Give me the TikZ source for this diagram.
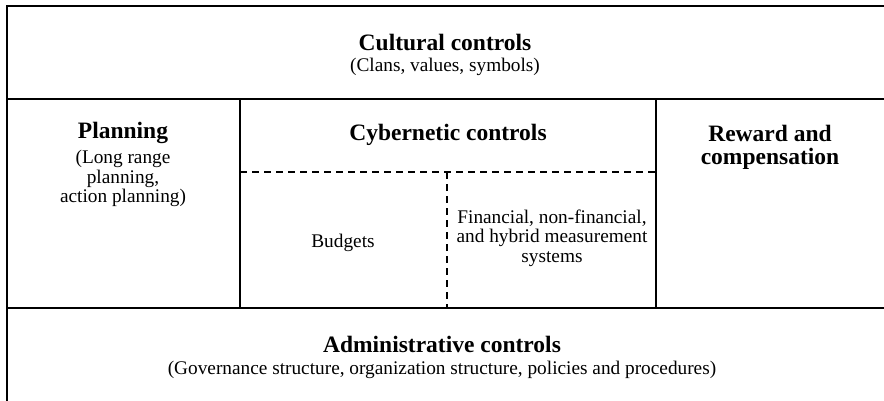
\documentclass[tikz,border=0pt]{standalone}
\usepackage{fontspec}
\setmainfont{Liberation Serif}
\usetikzlibrary{positioning}

\begin{document}
\begin{tikzpicture}[x=1pt,y=-1pt,
    frame/.style={line width=1.3pt,black},
    split/.style={line width=1.2pt,dashed,dash pattern=on 7pt off 5pt},
    head/.style={font=\fontsize{23.5}{23}\selectfont\bfseries,align=center,inner sep=0pt},
    body/.style={font=\fontsize{19.3}{19.5}\selectfont,align=center,inner sep=0pt}]
\clip (0,0) rectangle (884,400);
\fill[white] (0,0) rectangle (884,400);
% outer frame, runs off the right and bottom edges
\draw[frame] (7,6) rectangle (892,410);
% row borders
\draw[frame] (7,99) -- (892,99);
\draw[frame] (7,308) -- (892,308);
% columns of the middle row
\draw[frame] (240,99) -- (240,308);
\draw[frame] (656,99) -- (656,308);
% cybernetic sub-cells
\draw[split] (240,172) -- (656,172);
\draw[split] (447,172) -- (447,308);

% top row
\node[head] (cultural) at (445,42) {Cultural controls};
\node[body,below=7pt of cultural] (clans) {(Clans, values, symbols)};
% middle row
\node[head] (planning) at (123,133) {Planning};
\node[body,below=6pt of planning] (planningsub) {(Long range\\planning,\\action planning)};
\node[head] (cyber) at (448,135) {Cybernetic controls};
\node[head] (reward) at (770,147) {Reward and\\compensation};
\node[body] (budgets) at (343,243) {Budgets};
\node[body] (measures) at (552,238) {Financial, non-financial,\\and hybrid measurement\\systems};
% bottom row
\node[head] (admin) at (442,344) {Administrative controls};
\node[body,below=8pt of admin] (adminsub) {(Governance structure, organization structure, policies and procedures)};
\end{tikzpicture}
\end{document}
